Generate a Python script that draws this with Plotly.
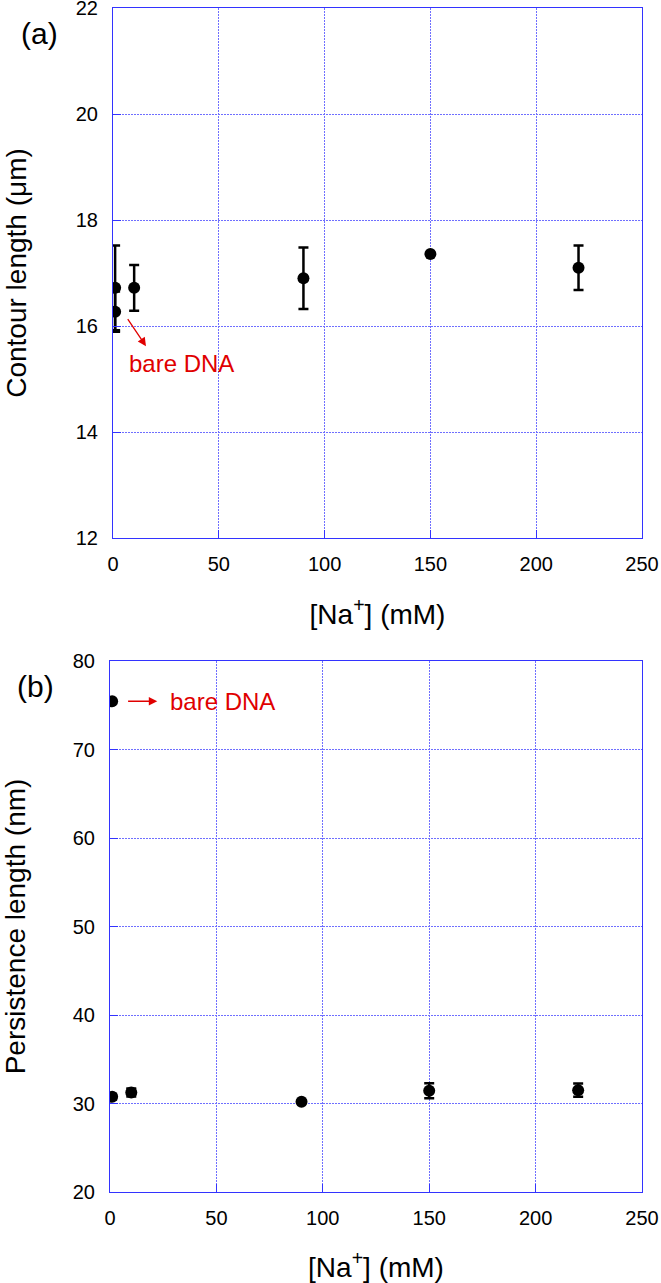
import plotly.graph_objects as go

# ---- data (a) contour length ----
na_a = [1, 1, 10, 90, 150, 220]
contour = [16.72, 16.27, 16.72, 16.90, 17.36, 17.10]
contour_err = [0.80, 0.38, 0.43, 0.58, 0.0, 0.42]

# ---- data (b) persistence length ----
na_b = [1, 1, 10, 90, 150, 220]
persist = [75.45, 30.76, 31.25, 30.20, 31.43, 31.50]
persist_err = [0.0, 0.30, 0.45, 0.0, 0.85, 0.75]

x_ticks = [0, 50, 100, 150, 200, 250]
ya_ticks = [12, 14, 16, 18, 20, 22]
yb_ticks = [20, 30, 40, 50, 60, 70, 80]

W, H = 661, 1283
FONT = "Liberation Sans, Arial, sans-serif"
BLUE = "#3333ff"
GRID = "#6f6fff"
RED = "#e00000"

fig = go.Figure()

fig.add_trace(go.Scatter(
    x=na_a, y=contour, mode="markers",
    marker=dict(color="black", size=12),
    error_y=dict(type="data", array=contour_err, color="black", thickness=2.5, width=5),
    xaxis="x", yaxis="y", showlegend=False))

fig.add_trace(go.Scatter(
    x=na_b, y=persist, mode="markers",
    marker=dict(color="black", size=12),
    error_y=dict(type="data", array=persist_err, color="black", thickness=2.5, width=5),
    xaxis="x2", yaxis="y2", showlegend=False))

common_ax = dict(
    automargin=False, ticklabeloverflow="allow",
    showline=True, linecolor=BLUE, linewidth=1.2, mirror=True,
    showgrid=True, gridcolor=GRID, gridwidth=1, griddash="2px,1px",
    ticks="inside", ticklen=8, tickcolor=BLUE, tickwidth=1.2,
    zeroline=False, tickfont=dict(family=FONT, size=20, color="black"),
)

fig.update_layout(
    width=W, height=H,
    margin=dict(l=0, r=0, t=0, b=0),
    plot_bgcolor="white", paper_bgcolor="white",
    font=dict(family=FONT, color="black"),
    xaxis=dict(domain=[113 / W, 642 / W], anchor="y", range=[0, 250],
               tickvals=x_ticks, ticklabelstandoff=8,
               title=dict(text="[Na<sup>+</sup>] (mM)", font=dict(size=28), standoff=30),
               **common_ax),
    yaxis=dict(domain=[1 - 538 / H, 1 - 8 / H], anchor="x", range=[12, 22],
               tickvals=ya_ticks, ticklabelstandoff=10,
               title=dict(text="Contour length (\u03bcm)", font=dict(size=28), standoff=40),
               **common_ax),
    xaxis2=dict(domain=[110 / W, 642 / W], anchor="y2", range=[0, 250],
                tickvals=x_ticks, ticklabelstandoff=8,
                title=dict(text="[Na<sup>+</sup>] (mM)", font=dict(size=28), standoff=30),
                **common_ax),
    yaxis2=dict(domain=[1 - 1192 / H, 1 - 661 / H], anchor="x2", range=[20, 80],
                tickvals=yb_ticks, ticklabelstandoff=10,
                title=dict(text="Persistence length (nm)", font=dict(size=28), standoff=40),
                **common_ax),
)

# panel labels
fig.add_annotation(text="(a)", xref="paper", yref="paper", x=39 / W, y=1 - 34 / H,
                   xanchor="center", yanchor="middle",
                   showarrow=False, font=dict(size=30, family=FONT, color="black"))
fig.add_annotation(text="(b)", xref="paper", yref="paper", x=35 / W, y=1 - 686 / H,
                   xanchor="center", yanchor="middle",
                   showarrow=False, font=dict(size=30, family=FONT, color="black"))

# bare DNA annotations (a)
fig.add_annotation(x=15.6, y=15.62, ax=6.5, ay=16.16, xref="x", yref="y", axref="x", ayref="y",
                   showarrow=True, arrowhead=2, arrowsize=1.3, arrowwidth=1.3, arrowcolor=RED, text="")
fig.add_annotation(x=6.5, y=15.3, xref="x", yref="y", text="bare DNA", showarrow=False,
                   xanchor="left", font=dict(size=24, color=RED, family=FONT))

# bare DNA annotations (b)
fig.add_annotation(x=22.2, y=75.45, ax=7.8, ay=75.45, xref="x2", yref="y2", axref="x2", ayref="y2",
                   showarrow=True, arrowhead=2, arrowsize=1.3, arrowwidth=1.3, arrowcolor=RED, text="")
fig.add_annotation(x=27.4, y=75.45, xref="x2", yref="y2", text="bare DNA", showarrow=False,
                   xanchor="left", font=dict(size=24, color=RED, family=FONT))

fig.write_html("out.html")
